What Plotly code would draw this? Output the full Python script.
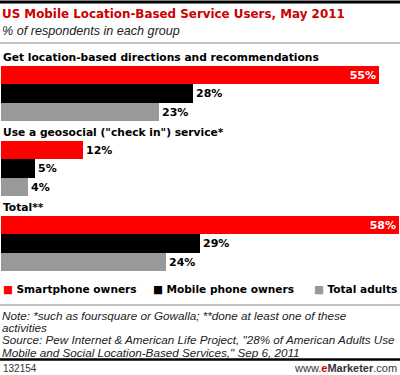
import plotly.graph_objects as go

# ---- data ----
groups = ["Get location-based directions and recommendations",
          "Use a geosocial (\"check in\") service*",
          "Total**"]
series = ["Smartphone owners", "Mobile phone owners", "Total adults"]
smartphone = [55, 12, 58]
mobile = [28, 5, 29]
total_adults = [23, 4, 24]
values = [smartphone, mobile, total_adults]
colors = ["#ff0000", "#000000", "#999999"]
notes = ["Note: *such as foursquare or Gowalla; **done at least one of these",
         "activities",
         "Source: Pew Internet & American Life Project, \"28% of American Adults Use",
         "Mobile and Social Location-Based Services,\" Sep 6, 2011"]

W, H = 400, 375
def py(px):  # pixel from top -> paper fraction
    return 1 - px / H
def px_(x):
    return x / W

GROUP_STEP = 4.1
BAR_OFFSET = 1.2
LABEL_OFFSET = 0.72

BOLD = "DejaVu Sans"
fig = go.Figure()
for s, (name, vals, col) in enumerate(zip(series, values, colors)):
    ypos = [g * GROUP_STEP + BAR_OFFSET + s + 0.5 for g in range(len(groups))]
    pos = ["inside" if v > 40 else "outside" for v in vals]
    fig.add_trace(go.Bar(
        x=vals, y=ypos, orientation="h", name=name, width=1,
        marker=dict(color=col, line=dict(width=0)),
        text=[f"{v}%" for v in vals], textposition=pos,
        insidetextanchor="end",
        insidetextfont=dict(color="white", size=11, family=BOLD, weight="bold"),
        outsidetextfont=dict(color="black", size=11, family=BOLD, weight="bold"),
        cliponaxis=False, showlegend=False, hoverinfo="skip",
    ))

annotations = []
for g, label in enumerate(groups):
    annotations.append(dict(
        text=f"<b>{label}</b>", xref="paper", yref="y", x=px_(1),
        y=g * GROUP_STEP + LABEL_OFFSET, xanchor="left", yanchor="middle",
        showarrow=False, font=dict(family=BOLD, size=10.7, color="black")))

# title & subtitle
annotations.append(dict(text="<b>US Mobile Location-Based Service Users, May 2011</b>",
                        xref="paper", yref="paper", x=px_(0), y=py(14),
                        xanchor="left", yanchor="middle", showarrow=False,
                        font=dict(family=BOLD, size=11.9, color="#cc0000")))
annotations.append(dict(text="<i>% of respondents in each group</i>",
                        xref="paper", yref="paper", x=px_(0), y=py(31),
                        xanchor="left", yanchor="middle", showarrow=False,
                        font=dict(family="Liberation Sans", size=12.6, color="#222")))

# legend (text-based)
leg_x = [1, 151, 312]
for name, col, x in zip(series, colors, leg_x):
    annotations.append(dict(
        text=f"<span style='color:{col}'>■</span> <b>{name}</b>",
        xref="paper", yref="paper", x=px_(x), y=py(289),
        xanchor="left", yanchor="middle", showarrow=False,
        font=dict(family=BOLD, size=10.6, color="black")))

for i, line in enumerate(notes):
    annotations.append(dict(text=f"<i>{line}</i>",
                            xref="paper", yref="paper", x=px_(0), y=py(315 + i * 12.4),
                            xanchor="left", yanchor="middle", align="left", showarrow=False,
                            font=dict(family="Liberation Sans", size=11.7, color="#222")))
annotations.append(dict(text="132154", xref="paper", yref="paper", x=px_(1), y=py(368),
                        xanchor="left", yanchor="middle", showarrow=False,
                        font=dict(family="Liberation Sans", size=10, color="#333")))
annotations.append(dict(text="www.<span style='color:#cc0000'><b>e</b></span><b>Marketer</b>.com",
                        xref="paper", yref="paper", x=px_(399), y=py(368),
                        xanchor="right", yanchor="middle", showarrow=False,
                        font=dict(family="Liberation Sans", size=11, color="#333")))

shapes = [
    dict(type="line", xref="paper", yref="paper", x0=0, x1=1, y0=py(2), y1=py(2),
         line=dict(color="black", width=3)),
    dict(type="line", xref="paper", yref="paper", x0=0, x1=1, y0=py(43), y1=py(43),
         line=dict(color="#888", width=1)),
    dict(type="line", xref="paper", yref="paper", x0=0, x1=1, y0=py(305), y1=py(305),
         line=dict(color="#888", width=1)),
    dict(type="line", xref="paper", yref="paper", x0=0, x1=1, y0=py(359.5), y1=py(359.5),
         line=dict(color="black", width=2.5)),
]

fig.update_layout(
    width=W, height=H, autosize=False,
    margin=dict(l=0, r=0, t=0, b=0),
    paper_bgcolor="white", plot_bgcolor="white",
    xaxis=dict(domain=[px_(1), 1], range=[0, 58.1], visible=False, fixedrange=True),
    yaxis=dict(domain=[py(271), py(44)], range=[12.4, 0], visible=False, fixedrange=True),
    bargap=0, annotations=annotations, shapes=shapes,
    uniformtext=dict(minsize=11, mode="show"),
)
fig.write_html("out.html", config={"displayModeBar": False},
               post_script="document.body.style.margin='0';document.body.style.overflow='hidden';")
